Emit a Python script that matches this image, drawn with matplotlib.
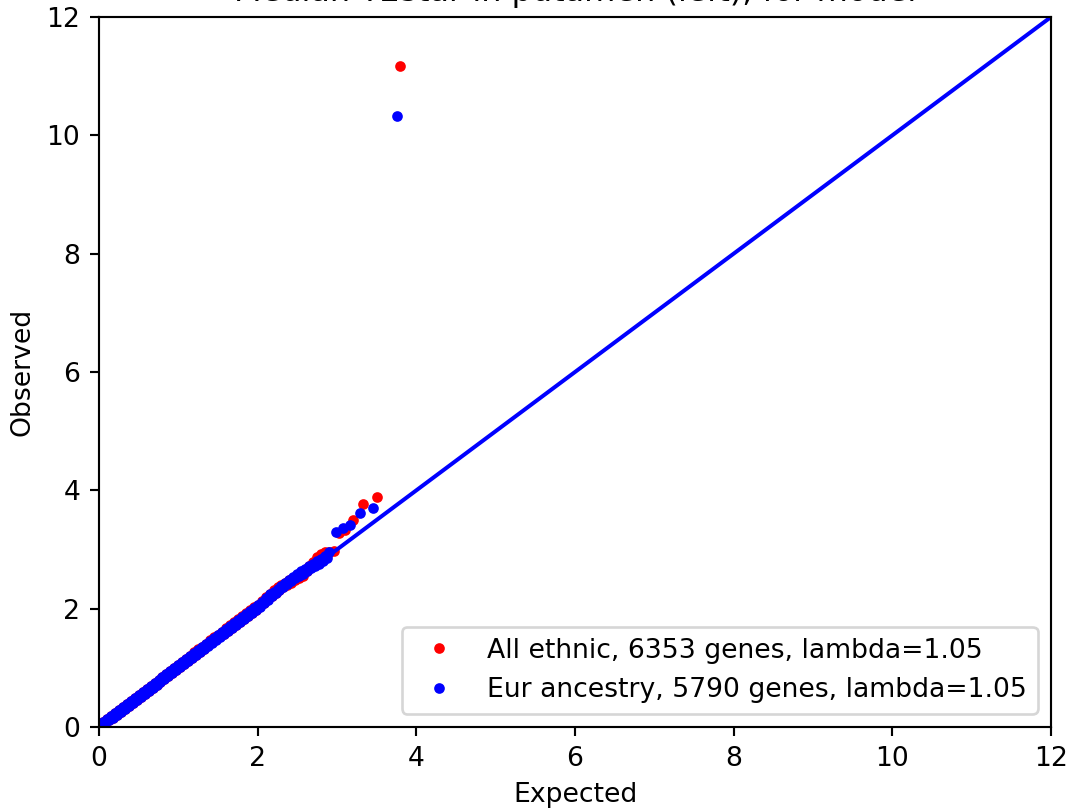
import matplotlib
matplotlib.use("Agg")
import matplotlib.pyplot as plt

title = "Median T2star in putamen (left), for model"
xlabel = "Expected"
ylabel = "Observed"
label_all = "All ethnic, 6353 genes, lambda=1.05"
label_eur = "Eur ancestry, 5790 genes, lambda=1.05"
ticks = [0, 2, 4, 6, 8, 10, 12]

# bulk of the QQ band, read at two interleaved expected grids (upper / lower edge of band)
grid_expected = [0.00, 0.05, 0.10, 0.15, 0.20, 0.25, 0.30, 0.35, 0.40, 0.45,
                 0.50, 0.55, 0.60, 0.65, 0.70, 0.75, 0.80, 0.85, 0.90, 0.95,
                 1.00, 1.05, 1.10, 1.15, 1.20, 1.25, 1.30, 1.35, 1.40, 1.45,
                 1.50, 1.55, 1.60, 1.65, 1.70, 1.75, 1.80, 1.85, 1.90, 1.95,
                 2.00, 2.05, 2.10, 2.15, 2.20, 2.25, 2.30, 2.35, 2.40, 2.45,
                 2.50, 2.55, 2.60, 2.65, 2.70, 2.75, 2.80, 2.85, 2.90]
mid_expected = [0.025, 0.075, 0.125, 0.175, 0.225, 0.275, 0.325, 0.375, 0.425, 0.475,
                0.525, 0.575, 0.625, 0.675, 0.725, 0.775, 0.825, 0.875, 0.925, 0.975,
                1.025, 1.075, 1.125, 1.175, 1.225, 1.275, 1.325, 1.375, 1.425, 1.475,
                1.525, 1.575, 1.625, 1.675, 1.725, 1.775, 1.825, 1.875, 1.925, 1.975,
                2.025, 2.075, 2.125, 2.175, 2.225, 2.275, 2.325, 2.375, 2.425, 2.475,
                2.525, 2.575, 2.625, 2.675, 2.725, 2.775, 2.825, 2.875]

all_grid_observed = [0.04, 0.09, 0.14, 0.19, 0.24, 0.29, 0.34, 0.39, 0.44, 0.49,
                     0.54, 0.59, 0.64, 0.70, 0.75, 0.80, 0.85, 0.90, 0.95, 1.00,
                     1.05, 1.10, 1.15, 1.20, 1.26, 1.31, 1.36, 1.41, 1.47, 1.52,
                     1.56, 1.61, 1.67, 1.72, 1.77, 1.82, 1.87, 1.92, 1.97, 2.02,
                     2.07, 2.13, 2.20, 2.25, 2.31, 2.36, 2.40, 2.44, 2.48, 2.52,
                     2.55, 2.59, 2.65, 2.72, 2.79, 2.87, 2.93, 2.95, 2.96]
all_mid_observed = [0.01, 0.06, 0.11, 0.16, 0.21, 0.26, 0.31, 0.36, 0.41, 0.46,
                    0.51, 0.56, 0.61, 0.66, 0.71, 0.76, 0.81, 0.86, 0.91, 0.96,
                    1.01, 1.06, 1.11, 1.17, 1.22, 1.27, 1.32, 1.38, 1.43, 1.48,
                    1.53, 1.58, 1.63, 1.68, 1.73, 1.78, 1.83, 1.88, 1.93, 1.98,
                    2.04, 2.10, 2.16, 2.22, 2.27, 2.32, 2.36, 2.40, 2.44, 2.48,
                    2.51, 2.56, 2.63, 2.70, 2.78, 2.85, 2.89, 2.91]
all_top_expected = [2.96, 3.02, 3.10, 3.20, 3.33, 3.50, 3.80]
all_top_observed = [2.97, 3.28, 3.33, 3.50, 3.77, 3.89, 11.17]

eur_grid_observed = [0.04, 0.09, 0.14, 0.19, 0.24, 0.29, 0.34, 0.39, 0.44, 0.49,
                     0.54, 0.59, 0.64, 0.69, 0.74, 0.79, 0.84, 0.90, 0.95, 1.00,
                     1.05, 1.10, 1.15, 1.20, 1.25, 1.30, 1.35, 1.40, 1.45, 1.50,
                     1.55, 1.60, 1.66, 1.71, 1.76, 1.81, 1.86, 1.91, 1.96, 2.01,
                     2.06, 2.12, 2.18, 2.24, 2.29, 2.34, 2.39, 2.44, 2.49, 2.54,
                     2.59, 2.63, 2.67, 2.72, 2.76, 2.80, 2.84, 2.89, 2.95]
eur_mid_observed = [0.01, 0.06, 0.11, 0.16, 0.21, 0.26, 0.31, 0.36, 0.41, 0.46,
                    0.51, 0.56, 0.61, 0.66, 0.71, 0.76, 0.81, 0.87, 0.92, 0.97,
                    1.02, 1.07, 1.12, 1.17, 1.22, 1.27, 1.32, 1.37, 1.42, 1.47,
                    1.52, 1.57, 1.62, 1.68, 1.73, 1.78, 1.83, 1.88, 1.93, 1.98,
                    2.03, 2.09, 2.15, 2.21, 2.26, 2.31, 2.36, 2.41, 2.46, 2.51,
                    2.55, 2.59, 2.64, 2.68, 2.72, 2.76, 2.81, 2.86]
eur_top_expected = [2.99, 3.07, 3.16, 3.29, 3.46, 3.76]
eur_top_observed = [3.30, 3.36, 3.42, 3.62, 3.70, 10.32]

W, H, DPI = 1071, 809, 192
fig = plt.figure(figsize=(W / DPI, H / DPI), dpi=DPI)
ax = fig.add_axes([99 / W, (H - 727) / H, (1051 - 99) / W, (727 - 17) / H])

ms = 4.0
ax.plot(grid_expected + mid_expected + all_top_expected,
        all_grid_observed + all_mid_observed + all_top_observed,
        'o', color='red', ms=ms, mew=0, label=label_all, linestyle='none')
ax.plot(grid_expected + mid_expected + eur_top_expected,
        eur_grid_observed + eur_mid_observed + eur_top_observed,
        'o', color='blue', ms=ms, mew=0, label=label_eur, linestyle='none')
ax.plot([ticks[0], ticks[-1]], [ticks[0], ticks[-1]], color='blue', lw=1.5)

ax.set_xlim(ticks[0], ticks[-1])
ax.set_ylim(ticks[0], ticks[-1])
ax.set_xticks(ticks)
ax.set_yticks(ticks)
ax.set_xlabel(xlabel)
ax.set_ylabel(ylabel)
ax.set_title(title, fontsize=12)
ax.legend(loc='lower right', numpoints=1, fontsize=10)

fig.savefig("out.png", dpi=DPI)
